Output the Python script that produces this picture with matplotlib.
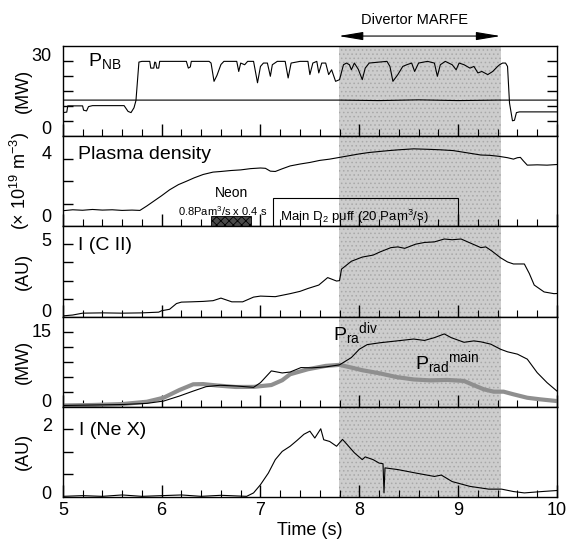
import numpy as np
import matplotlib.pyplot as plt
from matplotlib.patches import Rectangle
from matplotlib.transforms import blended_transform_factory

plt.rcParams['font.family'] = ['Liberation Sans', 'DejaVu Sans']
plt.rcParams['mathtext.default'] = 'regular'
plt.rcParams['hatch.linewidth'] = 0.6

# ---- data ----
marfe = (7.79, 9.43)          # divertor MARFE window (s)
neon_t = (6.5, 6.9)           # neon puff
puff_t = (7.13, 9.0)          # main D2 puff

pnb_t = [5.00, 5.04, 5.05, 5.20, 5.21, 5.24, 5.26, 5.30, 5.62, 5.66, 5.69, 5.72, 5.74, 5.77,
         5.80, 5.88, 5.89, 5.92, 5.93, 5.94, 5.95, 5.97, 5.98, 6.25, 6.27, 6.29, 6.30, 6.48,
         6.50, 6.53, 6.56, 6.60, 6.63, 6.76, 6.78, 6.80, 6.84, 6.87, 6.93, 6.97, 7.00, 7.03,
         7.07, 7.10, 7.12, 7.17, 7.25, 7.28, 7.31, 7.40, 7.48, 7.50, 7.53, 7.57, 7.59, 7.62,
         7.66, 7.69, 7.72, 7.76, 7.80, 7.84, 7.87, 7.90, 7.92, 7.95, 7.99, 8.03, 8.06, 8.10,
         8.20, 8.28, 8.31, 8.34, 8.39, 8.44, 8.48, 8.53, 8.56, 8.60, 8.69, 8.76, 8.79, 8.82,
         8.87, 8.94, 8.98, 9.01, 9.06, 9.12, 9.16, 9.20, 9.24, 9.30, 9.35, 9.40, 9.42, 9.45,
         9.48, 9.50, 9.52, 9.55, 9.57, 9.59, 9.62, 10.00]
pnb_v = [6.0, 6.2, 8.8, 8.8, 7.0, 6.7, 8.5, 8.9, 8.9, 6.5, 6.0, 8.0, 11.0, 27.0,
         27.3, 27.3, 24.5, 24.5, 27.0, 26.8, 24.5, 24.5, 27.3, 27.3, 24.5, 25.0, 27.3, 27.3,
         26.6, 19.0, 21.5, 26.0, 27.3, 27.3, 23.1, 26.6, 25.9, 27.3, 27.3, 18.4, 25.2, 26.6,
         26.6, 21.1, 25.9, 27.3, 27.3, 20.4, 26.6, 27.3, 27.3, 21.8, 26.6, 27.3, 22.5, 26.6,
         26.6, 21.8, 23.8, 19.0, 19.7, 25.9, 26.6, 25.9, 23.8, 26.6, 24.0, 19.7, 24.5, 26.6,
         27.0, 27.3, 25.2, 19.0, 21.8, 25.2, 25.9, 26.6, 23.1, 26.6, 27.3, 26.6, 21.1, 25.9,
         27.3, 25.9, 23.8, 26.6, 25.9, 24.5, 25.2, 22.5, 23.1, 21.8, 23.1, 25.2, 25.9, 26.6,
         26.6, 25.2, 10.0, 2.6, 2.8, 6.0, 6.3, 6.3]
pnb_ref_t = [5.0, 7.8, 8.2, 8.6, 9.0, 9.4, 10.0]
pnb_ref_v = [11.2, 11.2, 11.0, 11.3, 11.0, 11.2, 11.2]

dens_t = [5.0, 5.1, 5.2, 5.3, 5.4, 5.5, 5.6, 5.7, 5.78, 5.85, 5.91, 6.0, 6.08, 6.17, 6.25,
          6.33, 6.42, 6.52, 6.6, 6.7, 6.8, 6.9, 7.0, 7.05, 7.1, 7.15, 7.22, 7.3, 7.4, 7.5,
          7.6, 7.7, 7.8, 7.9, 8.0, 8.1, 8.2, 8.3, 8.4, 8.55, 8.7, 8.82, 8.95, 9.05, 9.15,
          9.23, 9.32, 9.41, 9.5, 9.56, 9.6, 9.63, 9.66, 9.7, 9.8, 9.9, 10.0]
dens_v = [0.30, 0.36, 0.33, 0.38, 0.34, 0.36, 0.32, 0.34, 0.32, 0.6, 0.86, 1.25, 1.62, 1.95, 2.16,
          2.38, 2.59, 2.74, 2.78, 2.84, 2.88, 2.96, 3.0, 2.98, 2.8, 2.78, 2.95, 3.13, 3.25, 3.35,
          3.48, 3.56, 3.67, 3.78, 3.89, 3.98, 4.04, 4.1, 4.15, 4.21, 4.18, 4.15, 4.1, 4.0, 3.9,
          3.82, 3.8, 3.74, 3.65, 3.56, 3.65, 3.67, 3.45, 3.18, 3.2, 3.18, 3.22]

cii_t = [5.0, 5.1, 5.2, 5.4, 5.6, 5.8, 5.97, 6.0, 6.08, 6.15, 6.2, 6.3, 6.42, 6.52, 6.6,
         6.71, 6.82, 6.93, 7.0, 7.15, 7.3, 7.4, 7.48, 7.59, 7.68, 7.77, 7.8, 7.82, 7.92, 8.03,
         8.14, 8.21, 8.32, 8.39, 8.46, 8.57, 8.66, 8.76, 8.86, 8.94, 9.03, 9.13, 9.23, 9.28,
         9.34, 9.43, 9.5, 9.56, 9.67, 9.72, 9.77, 9.87, 9.97, 10.0]
cii_v = [-0.36, -0.3, -0.17, -0.15, -0.17, -0.15, -0.1, 0.0, 0.1, 0.5, 0.6, 0.62, 0.65, 0.7, 0.88,
         0.62, 0.62, 0.95, 1.02, 0.98, 1.19, 1.35, 1.55, 1.79, 2.31, 2.07, 2.1, 2.9, 3.45, 3.74,
         3.88, 4.1, 4.4, 4.45, 4.35, 4.64, 4.76, 4.8, 5.0, 4.95, 5.0, 4.7, 4.4, 4.45,
         4.17, 3.69, 3.4, 3.26, 3.26, 2.6, 1.79, 1.31, 1.19, 1.2]

pdiv_t = [5.0, 5.3, 5.6, 5.85, 6.02, 6.18, 6.32, 6.45, 6.59, 6.75, 6.93, 7.0, 7.11, 7.22,
          7.3, 7.41, 7.52, 7.66, 7.8, 7.92, 8.0, 8.08, 8.21, 8.38, 8.55, 8.66, 8.76, 8.86,
          8.93, 9.06, 9.16, 9.23, 9.33, 9.43, 9.5, 9.6, 9.7, 9.8, 9.9, 10.0]
pdiv_v = [-1.1, -1.0, -0.9, -0.65, -0.15, 0.93, 2.0, 2.95, 3.25, 3.1, 2.8, 3.81, 6.34, 5.9,
          6.1, 7.06, 7.0, 7.2, 7.64, 9.22, 11.0, 12.0, 12.4, 12.8, 13.2, 12.9, 13.5, 14.3,
          13.5, 12.5, 12.8, 12.6, 12.1, 11.0, 10.45, 9.95, 8.87, 5.97, 3.81, 2.0]

pmain_t = [5.0, 5.3, 5.6, 5.85, 6.02, 6.18, 6.32, 6.42, 6.56, 6.75, 6.93, 7.11, 7.22, 7.3,
           7.48, 7.66, 7.8, 7.92, 8.03, 8.21, 8.38, 8.55, 8.72, 8.89, 9.06, 9.16, 9.26, 9.36,
           9.46, 9.56, 9.7, 9.83, 10.0]
pmain_v = [-1.1, -1.0, -0.8, -0.3, 0.57, 2.23, 3.46, 3.5, 3.2, 2.88, 2.9, 3.3, 4.33, 5.62,
           6.7, 7.42, 7.64, 7.06, 6.49, 5.8, 5.0, 4.5, 4.3, 4.4, 4.18, 3.25, 2.38, 1.87,
           1.87, 1.3, 0.56, 0.22, -0.15]

nex_t = [5.0, 5.2, 5.4, 5.6, 5.8, 6.0, 6.2, 6.4, 6.6, 6.86, 6.93, 7.0, 7.08, 7.15, 7.22,
         7.3, 7.37, 7.44, 7.5, 7.55, 7.61, 7.64, 7.7, 7.77, 7.83, 7.88, 7.95, 8.03, 8.06,
         8.14, 8.2, 8.24, 8.25, 8.26, 8.39, 8.57, 8.76, 8.83, 8.94, 9.12, 9.31, 9.44, 9.56,
         9.67, 9.85, 10.0]
nex_v = [-0.1, -0.08, -0.1, -0.06, -0.1, -0.08, -0.06, -0.1, -0.07, -0.1, 0.0, 0.24, 0.58, 0.97, 1.21,
         1.36, 1.53, 1.71, 1.8, 1.6, 1.87, 1.55, 1.5, 1.36, 1.56, 1.4, 1.17, 0.97, 1.05,
         0.97, 0.87, 0.85, 0.0, 0.73, 0.68, 0.58, 0.48, 0.52, 0.33, 0.19, 0.11, 0.11, 0.04,
         0.0, 0.04, 0.07]

# ---- figure ----
fig, axes = plt.subplots(5, 1, figsize=(5.66, 5.46), dpi=100, sharex=True)
fig.subplots_adjust(left=0.111, right=0.984, top=0.9158, bottom=0.0897, hspace=0)

ylims = [(-3.8, 33.7), (-0.69, 5.01), (-0.41, 5.88), (-1.39, 18.03), (-0.12, 2.51)]
ndiv = [6, 4, 5, 6, 4]
yticks = [[0, 30], [0, 4], [0, 5], [0, 15], [0, 2]]
ylabels = ['(MW)', '(× 10$^{19}$ m$^{-3}$)', '(AU)', '(MW)', '(AU)']

for ax, lim, nd, tk, lab in zip(axes, ylims, ndiv, yticks, ylabels):
    ax.axvspan(*marfe, facecolor='#cdcdcd', edgecolor='#a8a8a8', hatch='....', lw=0, zorder=0)
    ax.set_xlim(5, 10)
    ax.set_ylim(lim)
    ax.set_yticks(tk)
    ax.set_yticks(np.linspace(lim[0], lim[1], nd + 1)[1:-1], minor=True)
    ax.tick_params(axis='y', which='major', length=0, labelsize=13, pad=8)
    ax.tick_params(axis='y', which='minor', direction='in', length=7, width=1)
    ax.set_xticks(range(5, 11))
    ax.set_xticks(np.arange(5, 10.01, 0.2), minor=True)
    ax.tick_params(axis='x', which='major', direction='in', length=9, width=1, labelsize=13)
    ax.tick_params(axis='x', which='minor', direction='in', length=5, width=0.8)
    ax.set_ylabel(lab, fontsize=13)
    ax.yaxis.set_label_coords(-0.063, 0.5)
    for s in ax.spines.values():
        s.set_linewidth(1.0)

axes[0].tick_params(axis='y', which='minor', right=True)

lc = 'k'
axes[0].plot(pnb_ref_t, pnb_ref_v, color=lc, lw=0.8)
axes[0].plot(pnb_t, pnb_v, color=lc, lw=0.8)
axes[1].plot(dens_t, dens_v, color=lc, lw=0.8)
axes[2].plot(cii_t, cii_v, color=lc, lw=0.8)
axes[3].plot(pmain_t, pmain_v, color='#8f8f8f', lw=3)
axes[3].plot(pdiv_t, pdiv_v, color=lc, lw=0.8)
axes[4].plot(nex_t, nex_v, color=lc, lw=0.8)

# panel labels
axes[0].text(0.051, 0.773, 'P$_{NB}$', transform=axes[0].transAxes, fontsize=14)
axes[1].text(0.031, 0.747, 'Plasma density', transform=axes[1].transAxes, fontsize=14)
axes[2].text(0.031, 0.735, 'I (C II)', transform=axes[2].transAxes, fontsize=14)
axes[4].text(0.033, 0.686, 'I (Ne X)', transform=axes[4].transAxes, fontsize=14)

# gas puff boxes
b = ylims[1][0]
axes[1].add_patch(Rectangle((neon_t[0], b), neon_t[1] - neon_t[0], -0.06 - b,
                            facecolor='#4a4a4a', edgecolor='k', hatch='xxxx', lw=0.6, zorder=3))
axes[1].add_patch(Rectangle((puff_t[0], b), puff_t[1] - puff_t[0], 1.08 - b,
                            facecolor='none', edgecolor='k', lw=0.8, zorder=3))
axes[1].text(6.71, 1.41, 'Neon', ha='center', va='center', fontsize=10)
axes[1].text(6.62, 0.26, '0.8Pam$^3$/s x 0.4 s', ha='center', va='center', fontsize=8)
axes[1].text(7.2, -0.07, 'Main D$_2$ puff (20 Pam$^3$/s)', ha='left', va='center', fontsize=9.5)

# radiation labels
axes[3].text(7.73, 14.3, 'P$_{ra}$$^{div}$', ha='left', va='center', fontsize=14)
axes[3].text(8.56, 8.1, 'P$_{rad}$$^{main}$', ha='left', va='center', fontsize=14)

# divertor MARFE arrow
tr = blended_transform_factory(axes[0].transData, axes[0].transAxes)
axes[0].annotate('', xy=(marfe[1], 1.11), xytext=(marfe[0], 1.11), xycoords=tr, textcoords=tr,
                 arrowprops=dict(arrowstyle='<|-|>,head_length=1.5,head_width=0.25',
                                 color='k', lw=0.8, mutation_scale=10, shrinkA=0, shrinkB=0),
                 annotation_clip=False)
axes[0].text(sum(marfe) / 2 - 0.05, 1.285, 'Divertor MARFE', transform=tr, ha='center',
             va='center', fontsize=10.5)

axes[4].set_xlabel('Time (s)', fontsize=13, labelpad=2)

fig.savefig('out.png', dpi=100)
